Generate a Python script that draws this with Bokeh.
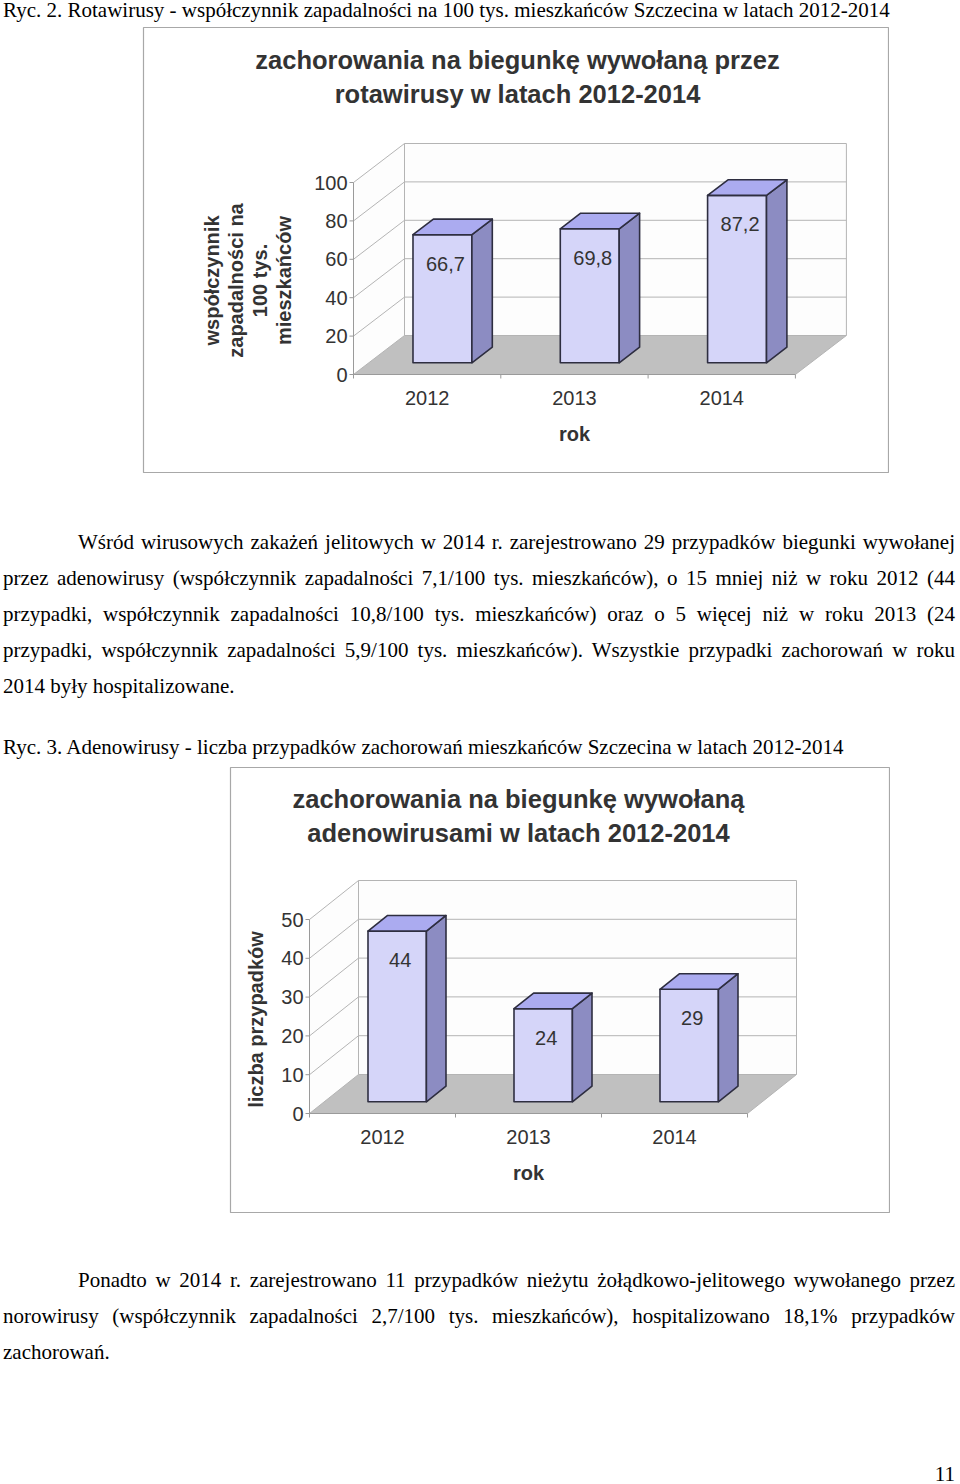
import math
from bokeh.plotting import figure
from bokeh.models import Range1d, Div
from bokeh.layouts import column
from bokeh.core.properties import value
from bokeh.embed import file_html
from bokeh.resources import INLINE

# ---------------- data ----------------
years = ["2012", "2013", "2014"]

rota_title = ["zachorowania na biegunkę wywołaną przez", "rotawirusy w latach 2012-2014"]
rota_ylabel = ["współczynnik", "zapadalności na", "100 tys.", "mieszkańców"]
rota_values = [66.7, 69.8, 87.2]
rota_value_labels = ["66,7", "69,8", "87,2"]
rota_ticks = [0, 20, 40, 60, 80, 100]
rota_tick_labels = ["0", "20", "40", "60", "80", "100"]

adeno_title = ["zachorowania na biegunkę wywołaną", "adenowirusami w latach 2012-2014"]
adeno_ylabel = ["liczba przypadków"]
adeno_values = [44, 24, 29]
adeno_value_labels = ["44", "24", "29"]
adeno_ticks = [0, 10, 20, 30, 40, 50]
adeno_tick_labels = ["0", "10", "20", "30", "40", "50"]

x_title = "rok"

caption1 = "Ryc. 2. Rotawirusy - współczynnik zapadalności na 100 tys. mieszkańców Szczecina w latach 2012-2014"
para1 = [
    "Wśród wirusowych zakażeń jelitowych w 2014 r. zarejestrowano 29 przypadków biegunki wywołanej",
    "przez adenowirusy (współczynnik zapadalności 7,1/100 tys. mieszkańców), o 15 mniej niż w roku 2012 (44",
    "przypadki, współczynnik zapadalności 10,8/100 tys. mieszkańców) oraz o 5 więcej niż w roku 2013 (24",
    "przypadki, współczynnik zapadalności 5,9/100 tys. mieszkańców). Wszystkie przypadki zachorowań w roku",
    "2014 były hospitalizowane.",
]
caption2 = "Ryc. 3. Adenowirusy - liczba przypadków zachorowań mieszkańców Szczecina w latach 2012-2014"
para2 = [
    "Ponadto w 2014 r. zarejestrowano 11 przypadków nieżytu żołądkowo-jelitowego wywołanego przez",
    "norowirusy (współczynnik zapadalności 2,7/100 tys. mieszkańców), hospitalizowano 18,1% przypadków",
    "zachorowań.",
]
page_number = "11"

# ---------------- styles ----------------
SANS = value("Liberation Sans")
TXT = "#333333"
GRID = "#b4b4b4"
FLOOR = "#c0c0c0"
BAR_FRONT = "#d5d5f9"
BAR_TOP = "#ababf0"
BAR_SIDE = "#8c8cc2"
BAR_LINE = "#2e2e40"


def chart3d(values, vlabels, ticks, tlabels, title_lines, ylabel_lines,
            box, axis, title_pos, ylab_pos):
    L, T, BW, BH = box                     # page px of the bordered box
    x0, y0, cw, ppu, dxp, dyp = axis       # front axis origin, category width, px per unit, depth
    n = len(values)
    ymax = ticks[-1]

    def X(px):
        return (px - x0) / cw

    def Y(py):
        return (y0 - py) / ppu

    p = figure(width=BW + 2, height=BH + 2, min_border=1,
               x_range=Range1d(X(L), X(L + BW)), y_range=Range1d(Y(T + BH), Y(T)),
               x_axis_type=None, y_axis_type=None,
               output_backend="svg", toolbar_location=None, tools="")
    p.grid.visible = False
    p.outline_line_color = "#a8a8a8"
    p.outline_line_width = 1.2
    p.background_fill_color = "white"
    p.border_fill_color = "white"

    ddx = dxp / cw
    ddy = dyp / ppu

    # walls and floor
    p.patch([ddx, n + ddx, n + ddx, ddx], [ddy, ddy, ymax + ddy, ymax + ddy],
            fill_color="#fdfdfd", line_color=None)
    p.patch([0, ddx, ddx, 0], [0, ddy, ymax + ddy, ymax], fill_color="#fdfdfd", line_color=None)
    p.patch([0, n, n + ddx, ddx], [0, 0, ddy, ddy], fill_color=FLOOR, line_color=None)

    # grid lines: side wall diagonals + back wall horizontals
    gx, gy = [], []
    for t in ticks:
        gx.append([0, ddx, n + ddx])
        gy.append([t, t + ddy, t + ddy])
    gx.append([ddx, ddx]); gy.append([ddy, ymax + ddy])
    gx.append([n + ddx, n + ddx]); gy.append([ddy, ymax + ddy])
    gx.append([n, n + ddx]); gy.append([0, ddy])
    p.multi_line(gx, gy, line_color=GRID, line_width=1)

    # front axes and ticks
    tl = 4.0
    ax_x = [[0, 0], [0, n]] + [[-tl / cw, 0] for _ in ticks] + [[k, k] for k in range(n + 1)]
    ax_y = [[0, ymax], [0, 0]] + [[t, t] for t in ticks] + [[0, -tl / ppu] for _ in range(n + 1)]
    p.multi_line(ax_x, ax_y, line_color="#9a9a9a", line_width=1)

    # bars (front face at 30% depth, 40% deep, 40% of category wide)
    fx, fy, sx, sy, tx, ty = [], [], [], [], [], []
    lab_x, lab_y = [], []
    bdx, bdy = 0.4 * ddx, 0.4 * ddy
    for i, v in enumerate(values):
        fl = i + 0.3 + 0.3 * ddx
        fr = fl + 0.4
        fb = 0.3 * ddy
        ft = fb + v
        fx.append([fl, fr, fr, fl]); fy.append([fb, fb, ft, ft])
        sx.append([fr, fr + bdx, fr + bdx, fr]); sy.append([fb, fb + bdy, ft + bdy, ft])
        tx.append([fl, fr, fr + bdx, fl + bdx]); ty.append([ft, ft, ft + bdy, ft + bdy])
        lab_x.append((fl + fr) / 2 + 3 / cw)
        lab_y.append(ft - 29 / ppu)
    p.patches(fx, fy, fill_color=BAR_FRONT, line_color=BAR_LINE, line_width=1.6, line_join="round")
    p.patches(sx, sy, fill_color=BAR_SIDE, line_color=BAR_LINE, line_width=1.6, line_join="round")
    p.patches(tx, ty, fill_color=BAR_TOP, line_color=BAR_LINE, line_width=1.6, line_join="round")

    p.text(lab_x, lab_y, text=vlabels, text_font=SANS, text_font_size="20px",
           text_color=TXT, text_align="center", text_baseline="middle")

    # tick labels
    p.text([-6 / cw] * len(ticks), ticks, text=tlabels, text_font=SANS, text_font_size="20px",
           text_color=TXT, text_align="right", text_baseline="middle")
    p.text([i + 0.5 for i in range(n)], [-23 / ppu] * n, text=years, text_font=SANS,
           text_font_size="20px", text_color=TXT, text_align="center", text_baseline="middle")
    p.text([n / 2], [-59 / ppu], text=[x_title], text_font=SANS, text_font_size="20px",
           text_font_style="bold", text_color=TXT, text_align="center", text_baseline="middle")

    # title
    tcx, tys = title_pos
    p.text([X(tcx)] * len(title_lines), [Y(ty_) for ty_ in tys], text=title_lines,
           text_font=SANS, text_font_size="25.5px", text_font_style="bold",
           text_color=TXT, text_align="center", text_baseline="middle")

    # rotated y-axis title
    yxs, ycy = ylab_pos
    p.text([X(xx) for xx in yxs], [Y(ycy)] * len(ylabel_lines), text=ylabel_lines,
           angle=math.pi / 2, text_font=SANS, text_font_size="20px", text_font_style="bold",
           text_color=TXT, text_align="center", text_baseline="middle")
    return p


fig1 = chart3d(rota_values, rota_value_labels, rota_ticks, rota_tick_labels, rota_title, rota_ylabel,
               box=(143, 27, 745, 445), axis=(353, 374, 147.3, 1.92, 51, 39),
               title_pos=(517, [59, 93.5]), ylab_pos=([211, 235, 259, 283], 280))
fig1.margin = (4, 0, 0, 142)

fig2 = chart3d(adeno_values, adeno_value_labels, adeno_ticks, adeno_tick_labels, adeno_title, adeno_ylabel,
               box=(230, 767, 659, 445), axis=(309, 1113, 146, 3.88, 49, 39),
               title_pos=(518, [798, 832]), ylab_pos=([255], 1019))
fig2.margin = (7, 0, 0, 229)

SERIF = "font-family:'Liberation Serif','Times New Roman',serif;font-size:21px;color:#000;"


def para_html(lines, indent=75):
    out = []
    for k, ln in enumerate(lines):
        last = (k == len(lines) - 1)
        st = "text-align:justify;text-align-last:%s;" % ("left" if last else "justify")
        if k == 0:
            st += "text-indent:%dpx;" % indent
        out.append('<div style="%s">%s</div>' % (st, ln))
    return '<div style="%sline-height:36px;width:952px;">%s</div>' % (SERIF, "".join(out))


def line_html(txt, align="left", lh=24):
    return '<div style="%sline-height:%dpx;width:952px;text-align:%s;white-space:nowrap;">%s</div>' % (
        SERIF, lh, align, txt)


cap1 = Div(text=line_html(caption1), width=952, height=24, margin=(-2, 0, 0, 3))
p1 = Div(text=para_html(para1), width=952, height=180, margin=(51, 0, 0, 3))
cap2 = Div(text=line_html(caption2), width=952, height=24, margin=(31, 0, 0, 3))
p2 = Div(text=para_html(para2), width=952, height=108, margin=(49, 0, 0, 3))
num = Div(text=line_html(page_number, align="right", lh=12), width=952, height=12, margin=(98, 0, 0, 3))

page = column(cap1, fig1, p1, cap2, fig2, p2, num, spacing=0)

open("out.html", "w").write(file_html(page, INLINE))
